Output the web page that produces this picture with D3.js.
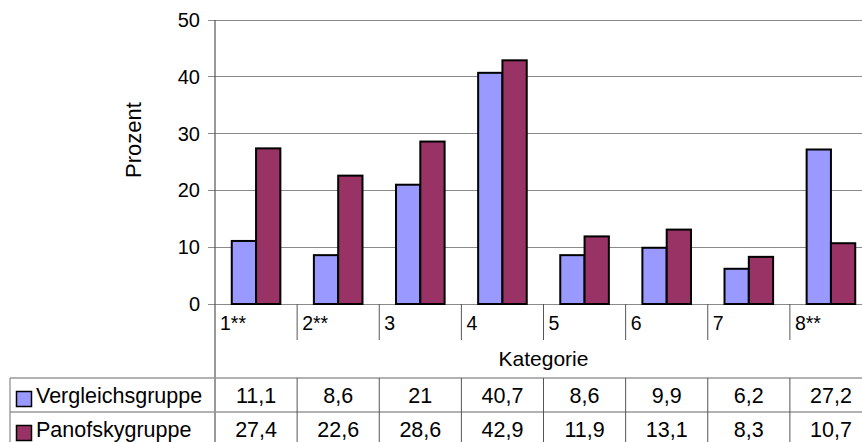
<!DOCTYPE html>
<html><head><meta charset="utf-8">
<script src="https://cdn.jsdelivr.net/npm/d3@7"></script>
<style>
html,body{margin:0;padding:0;background:#fff;}
svg{display:block;font-family:"Liberation Sans",Arial,sans-serif;}
</style></head>
<body>
<svg id="c" width="862" height="442"></svg>
<script>
const categories = ["1**","2**","3","4","5","6","7","8**"];
const seriesNames = ["Vergleichsgruppe","Panofskygruppe"];
const vergleichsgruppe = [11.1, 8.6, 21, 40.7, 8.6, 9.9, 6.2, 27.2];
const panofskygruppe = [27.4, 22.6, 28.6, 42.9, 11.9, 13.1, 8.3, 10.7];
const yTicks = [0,10,20,30,40,50];
const colors = ["#9999ff","#993366"];

const svg = d3.select("#c");
const plotL = 215, plotR = 872, plotT = 20, plotB = 304;
const tableTop = 378, rowH = 34, tableLeft = 10;

const x = d3.scaleBand().domain(categories).range([plotL, plotR]).padding(0);
const xs = d3.scaleBand().domain(seriesNames).range([0, x.bandwidth()]).paddingInner(0).paddingOuter(0.69);
const y = d3.scaleLinear().domain([0,50]).range([plotB, plotT]);

// gridlines
svg.append("g").selectAll("line").data(yTicks).join("line")
  .attr("x1", plotL - 7).attr("x2", plotR)
  .attr("y1", d => y(d)).attr("y2", d => y(d))
  .attr("stroke", "#8a8a8a").attr("stroke-width", 1).attr("shape-rendering","crispEdges");

// y tick labels
svg.append("g").selectAll("text").data(yTicks).join("text")
  .attr("x", 200).attr("y", d => y(d)).attr("dy", "0.35em")
  .attr("text-anchor", "end").attr("font-size", 20).attr("fill", "#000")
  .text(d => d);

// bars
const data = [vergleichsgruppe, panofskygruppe];
seriesNames.forEach((s, si) => {
  svg.append("g").selectAll("rect").data(categories).join("rect")
    .attr("x", c => x(c) + xs(s))
    .attr("width", xs.bandwidth())
    .attr("y", (c, i) => y(data[si][i]))
    .attr("height", (c, i) => y(0) - y(data[si][i]))
    .attr("fill", colors[si]).attr("stroke", "#000").attr("stroke-width", 2);
});

// y axis line (continues through table)
svg.append("line").attr("x1", plotL).attr("x2", plotL).attr("y1", plotT).attr("y2", 442)
  .attr("stroke", "#555").attr("stroke-width", 1.2);

// category dividers under axis
svg.append("g").selectAll("line").data(categories.slice(1)).join("line")
  .attr("x1", c => x(c)).attr("x2", c => x(c)).attr("y1", plotB).attr("y2", 340)
  .attr("stroke", "#555").attr("stroke-width", 1);
// category labels
svg.append("g").selectAll("text").data(categories).join("text")
  .attr("x", c => x(c) + 5).attr("y", 330)
  .attr("font-size", 19.5).attr("fill", "#000").text(c => c);

// axis titles
svg.append("text").attr("x", (plotL + plotR) / 2).attr("y", 366)
  .attr("text-anchor", "middle").attr("font-size", 21).attr("fill", "#000").text("Kategorie");
svg.append("text").attr("transform", "translate(141,140) rotate(-90)")
  .attr("text-anchor", "middle").attr("font-size", 22).attr("fill", "#000").text("Prozent");

// data table
const tg = svg.append("g");
[0,1,2].forEach(r => {
  tg.append("line").attr("x1", tableLeft).attr("x2", 862)
    .attr("y1", tableTop + r*rowH).attr("y2", tableTop + r*rowH)
    .attr("stroke", "#999").attr("stroke-width", 1.5);
});
tg.append("line").attr("x1", tableLeft).attr("x2", tableLeft).attr("y1", tableTop).attr("y2", 442)
  .attr("stroke", "#888").attr("stroke-width", 1.2);
tg.selectAll("line.v").data(categories.slice(1)).join("line").attr("class","v")
  .attr("x1", c => x(c)).attr("x2", c => x(c)).attr("y1", tableTop).attr("y2", 442)
  .attr("stroke", "#555").attr("stroke-width", 1);

seriesNames.forEach((s, si) => {
  const rowY = tableTop + si*rowH;
  tg.append("rect").attr("x", 16.5).attr("y", rowY + 13.5).attr("width", 15).attr("height", 15)
    .attr("fill", colors[si]).attr("stroke", "#000").attr("stroke-width", 1.5);
  tg.append("text").attr("x", 36).attr("y", rowY + 25).attr("font-size", 21.5).attr("fill", "#000").text(s);
  tg.append("g").selectAll("text").data(categories).join("text")
    .attr("x", c => x(c) + x.bandwidth()/2).attr("y", rowY + 25)
    .attr("text-anchor", "middle").attr("font-size", 21.5).attr("fill", "#000")
    .text((c, i) => String(data[si][i]).replace(".", ","));
});
</script>
</body></html>
